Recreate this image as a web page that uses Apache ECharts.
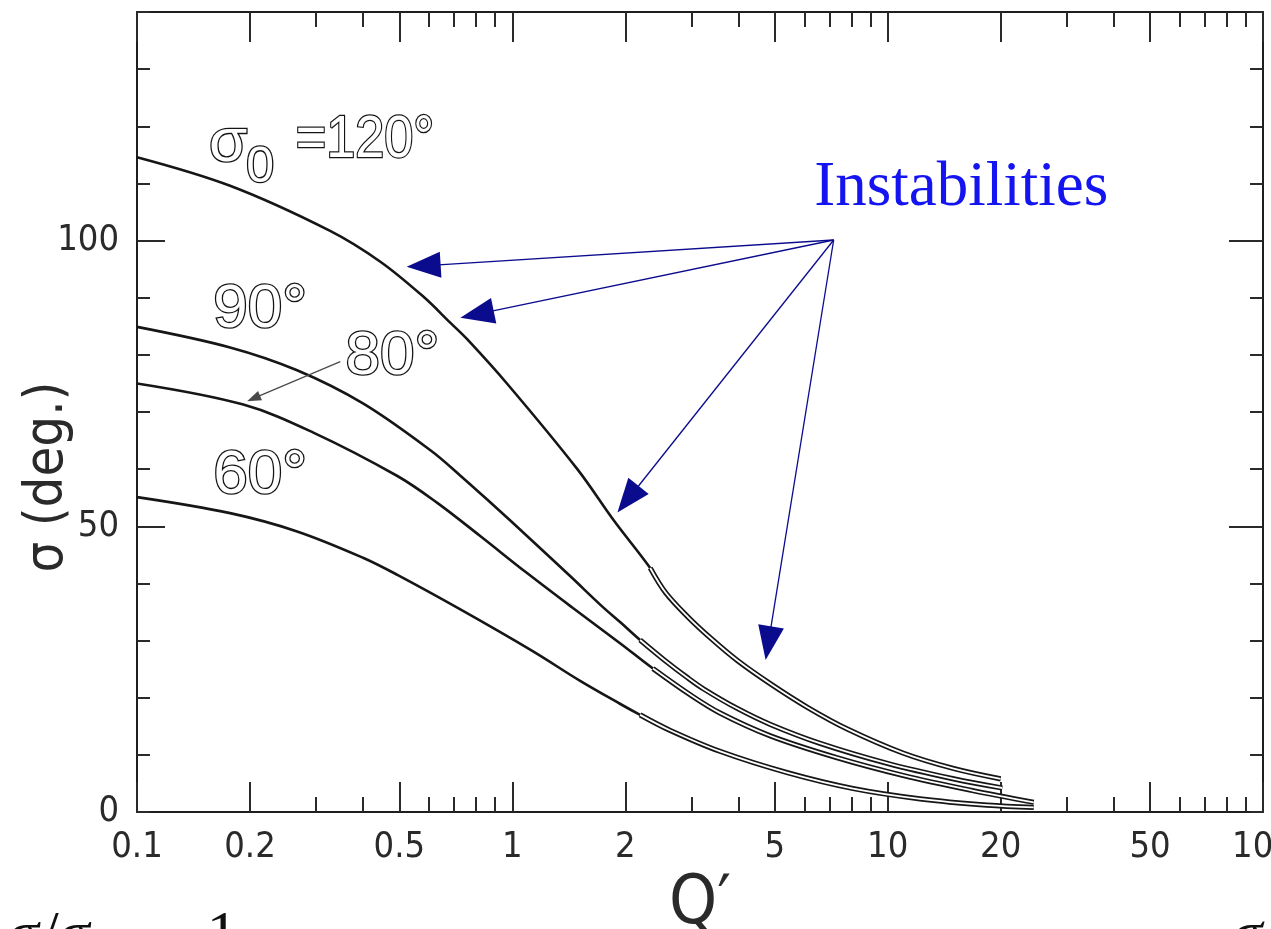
<!DOCTYPE html>
<html><head><meta charset="utf-8">
<script src="https://cdn.jsdelivr.net/npm/echarts@6/dist/echarts.min.js"></script>
<style>html,body{margin:0;padding:0;background:#fff;overflow:hidden}#c{width:1271px;height:929px}</style>
</head><body><div id="c"></div>
<script>
// ---- tick values ----
const xTickLabels = [0.1, 0.2, 0.5, 1, 2, 5, 10, 20, 50, 100];
const xMinorTicks = [0.3, 0.4, 0.6, 0.7, 0.8, 0.9, 3, 4, 6, 7, 8, 9, 30, 40, 60, 70, 80, 90];
const yTickLabels = [0, 50, 100];
const yMajorTicks = [50, 100];

// ---- curves: sigma (deg) vs Q' ----
const curveNames = ['σ0 = 120°', '90°', '80°', '60°'];
const Q120 = [0.1, 0.177, 0.327, 0.445, 0.579, 0.684, 0.759, 0.97, 1.49, 1.86, 2.33, 2.56, 2.93, 3.38, 3.98, 4.88, 6.12, 7.82, 11.0, 15.0, 20.0];
const S120 = [114.6, 109.6, 101.7, 96.3, 90.2, 85.6, 82.7, 74.9, 60.0, 51.1, 42.7, 38.4, 34.2, 30.4, 26.5, 22.4, 18.3, 14.5, 10.3, 7.6, 5.8];
const Q90 = [0.1, 0.177, 0.267, 0.4, 0.605, 0.726, 0.873, 1.12, 1.43, 1.74, 1.94, 2.19, 2.53, 2.93, 3.24, 3.98, 4.88, 6.62, 10.0, 15.0, 20.2];
const S90 = [84.9, 81.3, 77.3, 71.5, 63.3, 58.9, 54.2, 47.7, 41.2, 35.9, 33.2, 30.1, 26.7, 23.5, 21.5, 18.1, 15.3, 12.0, 8.5, 5.8, 4.2];
const Q80 = [0.1, 0.192, 0.295, 0.494, 0.631, 0.821, 1.09, 1.45, 1.94, 2.37, 2.98, 3.58, 4.88, 7.33, 11.0, 16.7, 24.5];
const S80 = [75.0, 71.3, 66.4, 58.8, 54.1, 48.3, 41.9, 35.7, 29.5, 25.1, 20.5, 17.3, 13.3, 9.5, 6.4, 3.8, 1.7];
const Q60 = [0.1, 0.177, 0.267, 0.4, 0.494, 0.739, 1.13, 1.52, 1.94, 2.19, 2.63, 3.58, 5.39, 8.09, 12.2, 18.4, 24.5];
const S60 = [55.1, 52.3, 49.1, 44.5, 41.5, 35.2, 28.2, 22.9, 18.9, 17.0, 14.3, 10.6, 6.9, 4.1, 2.3, 1.2, 0.8];
// Q' beyond which each curve is drawn as a double (band) line
const bandStart = 2.1;

// ---- annotation anchors (data coords: [Q', sigma]) ----
const arrowOrigin = [7.18, 100.1];
const arrowTips = [[0.523, 95.4], [0.727, 86.5], [1.905, 52.4], [4.73, 26.6]];

const lg = v => Math.log10(v);
const fmt = v => String(parseFloat(Math.pow(10, v).toPrecision(3)));
const NARROW = "'Liberation Sans Narrow', 'DejaVu Sans Condensed', 'Liberation Sans', sans-serif";
const INK = '#1e1e1e';

const chart = echarts.init(document.getElementById('c'), null, {renderer: 'canvas'});

const baseX = {type: 'value', min: -1, max: 2, splitLine: {show: false}, axisLabel: {show: false},
  axisLine: {show: false, onZero: false}, axisPointer: {show: false}};
const baseY = {type: 'value', min: 0, max: 140, splitLine: {show: false}, axisLabel: {show: false},
  axisLine: {show: false, onZero: false}};
const tickStyle = {color: '#2a2a2a', width: 2};

function mk(Q, S) { return Q.map((q, i) => [lg(q), S[i]]); }
function band(Q, S) { return mk(Q, S).filter(p => p[0] >= lg(bandStart)); }
const curves = [[Q120, S120], [Q90, S90], [Q80, S80], [Q60, S60]];

const series = [];
curves.forEach((c, i) => {
  series.push({name: curveNames[i], type: 'line', xAxisIndex: 0, yAxisIndex: 0, z: 2,
    data: mk(c[0], c[1]), showSymbol: false, smooth: 0.35, silent: true,
    lineStyle: {color: '#161616', width: 2.6}});
});
curves.forEach((c, i) => {
  series.push({name: curveNames[i] + ' band', type: 'line', xAxisIndex: 0, yAxisIndex: 0, z: 3,
    data: band(c[0], c[1]), showSymbol: false, smooth: 0.35, silent: true,
    lineStyle: {color: '#161616', width: 5.2}});
});
curves.forEach((c, i) => {
  series.push({name: curveNames[i] + ' core', type: 'line', xAxisIndex: 0, yAxisIndex: 0, z: 4,
    data: band(c[0], c[1]), showSymbol: false, smooth: 0.35, silent: true,
    lineStyle: {color: '#ffffff', width: 1.8}});
});

const option = {
  backgroundColor: '#ffffff',
  animation: false,
  grid: {left: 137, right: 8, top: 12, bottom: 117, containLabel: false, outerBoundsMode: 'none', show: false},
  xAxis: [
    Object.assign({}, baseX, {position: 'bottom',
      axisLine: {show: true, onZero: false, lineStyle: {color: INK, width: 2}},
      axisTick: {show: true, inside: true, length: 30, customValues: xTickLabels.map(lg), lineStyle: tickStyle},
      axisLabel: {show: true, customValues: xTickLabels.map(lg), formatter: fmt, fontSize: 36, margin: 18,
        color: '#2a2a2a', fontFamily: NARROW},
      name: 'Q′', nameLocation: 'middle', nameGap: 42,
      nameTextStyle: {fontSize: 68, color: '#2a2a2a', fontFamily: NARROW}}),
    Object.assign({}, baseX, {position: 'bottom',
      axisTick: {show: true, inside: true, length: 15, customValues: xMinorTicks.map(lg), lineStyle: tickStyle}}),
    Object.assign({}, baseX, {position: 'top',
      axisLine: {show: true, onZero: false, lineStyle: {color: INK, width: 2}},
      axisTick: {show: true, inside: true, length: 30, customValues: xTickLabels.map(lg), lineStyle: tickStyle}}),
    Object.assign({}, baseX, {position: 'top',
      axisTick: {show: true, inside: true, length: 15, customValues: xMinorTicks.map(lg), lineStyle: tickStyle}})
  ],
  yAxis: [
    Object.assign({}, baseY, {position: 'left', interval: 10,
      axisLine: {show: true, onZero: false, lineStyle: {color: INK, width: 2}},
      axisTick: {show: true, inside: true, length: 13, lineStyle: tickStyle},
      axisLabel: {show: true, customValues: yTickLabels, fontSize: 36, margin: 18, color: '#2a2a2a', fontFamily: NARROW},
      name: 'σ (deg.)', nameLocation: 'middle', nameGap: 62, nameRotate: 90, nameMoveOverlap: false,
      nameTextStyle: {fontSize: 54, color: '#2a2a2a', fontFamily: NARROW, padding: [0, 130, 0, 0]}}),
    Object.assign({}, baseY, {position: 'left',
      axisTick: {show: true, inside: true, length: 28, customValues: yMajorTicks, lineStyle: tickStyle}}),
    Object.assign({}, baseY, {position: 'right', interval: 10,
      axisLine: {show: true, onZero: false, lineStyle: {color: INK, width: 2}},
      axisTick: {show: true, inside: true, length: 13, lineStyle: tickStyle}}),
    Object.assign({}, baseY, {position: 'right',
      axisTick: {show: true, inside: true, length: 34, customValues: yMajorTicks, lineStyle: tickStyle}})
  ],
  series: series
};
chart.setOption(option);

// ---- annotations ----
const P = (q, s) => chart.convertToPixel({xAxisIndex: 0, yAxisIndex: 0}, [lg(q), s]);

function arrow(o, t, L, W, color, lw) {
  const dx = t[0] - o[0], dy = t[1] - o[1];
  const len = Math.hypot(dx, dy);
  const ux = dx / len, uy = dy / len;
  const bx = t[0] - ux * L, by = t[1] - uy * L;
  const nx = -uy, ny = ux;
  return [
    {type: 'line', silent: true, z: 10, shape: {x1: o[0], y1: o[1], x2: bx + ux * 2, y2: by + uy * 2},
      style: {stroke: color, lineWidth: lw}},
    {type: 'polygon', silent: true, z: 10, shape: {points: [[t[0], t[1]], [bx + nx * W, by + ny * W], [bx - nx * W, by - ny * W]]},
      style: {fill: color}}
  ];
}

function outlineText(text, pos, size, extra) {
  return Object.assign({type: 'text', silent: true, z: 10, x: pos[0], y: pos[1],
    style: {text: text, fontSize: size, fontFamily: "'Liberation Sans', Arial, sans-serif",
      fill: '#ffffff', stroke: '#141414', lineWidth: 2.6, align: 'center', verticalAlign: 'middle'}}, extra || {});
}

const graphics = [];
const O = P(arrowOrigin[0], arrowOrigin[1]);
arrowTips.forEach(t => { graphics.push(...arrow(O, P(t[0], t[1]), 34, 13, '#0b0b8e', 1.3)); });
// 80 deg leader arrow
graphics.push(...arrow(P(0.348, 78.8), P(0.1965, 71.9), 14, 5, '#4a4a4a', 1.3));

graphics.push(outlineText('σ', P(0.175, 117.0), 62));
graphics.push(outlineText('0', P(0.213, 112.6), 50));
graphics.push(outlineText('=120°', P(0.405, 117.6), 60, {scaleX: 0.87}));
graphics.push(outlineText('90°', P(0.213, 87.9), 62));
graphics.push(outlineText('80°', P(0.479, 79.6), 62));
graphics.push(outlineText('60°', P(0.213, 58.8), 62));

const ip = P(15.7, 109.2);
graphics.push({type: 'text', silent: true, z: 10, x: ip[0], y: ip[1],
  style: {text: 'Instabilities', fontSize: 63, fontFamily: "'Liberation Serif', 'Times New Roman', serif",
    fill: '#1414f0', align: 'center', verticalAlign: 'middle'}});

// cropped slide text at the bottom edge
graphics.push({type: 'text', silent: true, x: 8, y: 937,
  style: {text: 'σ/σ₀ → 1', fontSize: 62, fontFamily: "'Liberation Serif', 'Times New Roman', serif",
    fill: '#111', align: 'left', verticalAlign: 'middle'}});
graphics.push({type: 'text', silent: true, x: 1232, y: 937,
  style: {text: 'σ', fontSize: 62, fontStyle: 'italic', fontFamily: "'Liberation Serif', 'Times New Roman', serif",
    fill: '#111', align: 'left', verticalAlign: 'middle'}});

chart.setOption({graphic: graphics});
</script></body></html>
